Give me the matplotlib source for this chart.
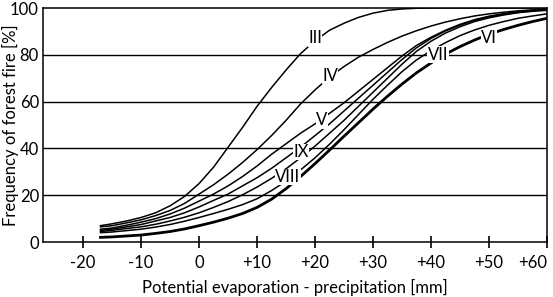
import matplotlib.pyplot as plt

plt.rcParams["font.family"] = ["Lato", "DejaVu Sans"]

# x values (potential evaporation - precipitation, mm)
x = [-17, -15, -12.5, -10, -7.5, -5, -2.5, 0, 2.5, 5, 7.5, 10, 12.5, 15, 17.5, 20,
     22.5, 25, 27.5, 30, 32.5, 35, 37.5, 40, 42.5, 45, 47.5, 50, 52.5, 55, 57.5, 60]

# frequency of forest fire [%] for each curve
curve_iii = [7, 7.8, 9, 10.5, 12.5, 15.5, 19.5, 25, 32, 40.5, 49, 58, 66, 73.5, 80.5, 86,
             90.5, 93.5, 96, 97.8, 99, 99.6, 99.9, 100, 100, 100, 100, 100, 100, 100, 100, 100]
curve_iv = [6.5, 7, 8.2, 9.5, 11.3, 13.5, 16.5, 20.5, 24.5, 29, 34, 39.5, 45.5, 52, 59, 65,
            70.5, 75, 79, 82.3, 85.3, 88, 90.3, 92.3, 94, 95.4, 96.6, 97.5, 98.2, 98.8, 99.2, 99.5]
curve_v = [5.5, 6, 7.2, 8.5, 10, 12, 14.5, 17.5, 20.5, 24, 28, 32.5, 37.5, 42, 46.5, 50.5,
           55, 59.5, 64.5, 69.5, 74.5, 79.5, 84, 87.5, 90.5, 93, 95, 96.5, 97.6, 98.4, 99, 99.5]
curve_ix = [5, 5.5, 6.5, 7.5, 9, 10.5, 12.5, 15, 17.8, 20.5, 24, 27.5, 31.5, 36, 40.5, 45.5,
            50.5, 56, 61.5, 67, 72.5, 78, 83, 87, 90.2, 92.7, 94.7, 96.2, 97.3, 98.1, 98.8, 99.3]
curve_viii = [4.5, 5, 5.8, 6.5, 7.6, 9, 10.6, 12.5, 14.8, 17.3, 20.2, 23.5, 27.2, 31.3, 36, 41,
              46.5, 52, 58, 64, 70, 76, 81.5, 85.8, 89.3, 92, 94.2, 95.8, 97, 98, 98.6, 99]
curve_vii = [4, 4.3, 4.9, 5.5, 6.4, 7.5, 8.9, 10.5, 12.2, 14, 16, 18.5, 22, 26, 30.8, 36,
             41.8, 48, 54.5, 61, 67, 72.8, 77.8, 81.8, 85.2, 88.2, 90.6, 92.6, 94.2, 95.6, 96.6, 97.5]
curve_vi = [2, 2.2, 2.6, 3, 3.7, 4.5, 5.6, 7, 8.5, 10.2, 12.2, 14.8, 18.3, 22.8, 28, 33.5,
            39.3, 45.2, 51, 56.8, 62.3, 67.5, 72.3, 76.5, 80.3, 83.5, 86.3, 88.8, 90.8, 92.6, 94.2, 95.6]

labels = ["III", "IV", "V", "IX", "VIII", "VII", "VI"]
label_x = [20, 22.6, 21.2, 17.6, 15.3, 41.2, 50]
label_y = [87, 71, 52, 38.5, 27.8, 80, 87]

xticks = [-20, -10, 0, 10, 20, 30, 40, 50, 60]
xticklabels = ["-20", "-10", "0", "+10", "+20", "+30", "+40", "+50", "+60"]
yticks = [0, 20, 40, 60, 80, 100]

fig = plt.figure(figsize=(5.53, 2.97), dpi=100)
ax = fig.add_axes([0.078, 0.185, 0.911, 0.788])

for y in [20, 40, 60, 80]:
    ax.axhline(y, color="black", lw=1.0, zorder=1)

for c in [curve_iii, curve_iv, curve_v, curve_ix, curve_viii, curve_vii]:
    ax.plot(x, c, color="black", lw=1.1, zorder=2)
ax.plot(x, curve_vi, color="black", lw=2.0, zorder=2)

# roman numeral labels sit on the curves and break them
for lab, lx, ly in zip(labels, label_x, label_y):
    ax.text(lx, ly, lab, ha="center", va="center", fontsize=12, zorder=3,
            bbox=dict(facecolor="white", edgecolor="none", pad=0.3))

ax.set_xlim(-26.9, 60)
ax.set_ylim(0, 100)
ax.set_xticks(xticks)
ax.set_xticklabels(xticklabels)
ax.get_xticklabels()[-1].set_ha("right")
ax.set_yticks(yticks)
ax.tick_params(axis="x", direction="inout", length=8, width=1.2, labelsize=12, pad=5)
ax.tick_params(axis="y", length=0, labelsize=12, pad=3)
for s in ax.spines.values():
    s.set_linewidth(1.1)

ax.set_xlabel("Potential evaporation - precipitation [mm]", fontsize=12, labelpad=6)
ax.set_ylabel("Frequency of forest fire [%]", fontsize=12, va="center")
ax.yaxis.set_label_coords(-0.064, 0.5)

fig.savefig("out.png", dpi=100)
